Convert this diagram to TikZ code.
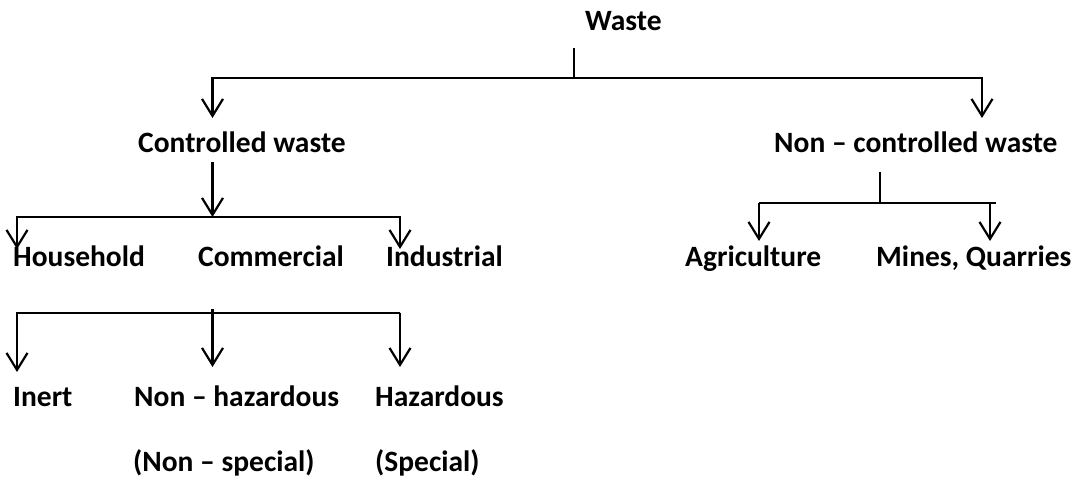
\documentclass[tikz,border=0pt]{standalone}
\usepackage{fontspec}
\setmainfont{Carlito}
\usetikzlibrary{arrows.meta}
\begin{document}
\begin{tikzpicture}[x=1pt,y=-1pt,
  lbl/.style={anchor=base west,inner sep=0pt,font=\fontsize{29.5}{32}\selectfont\bfseries},
  ln/.style={line width=2.2pt},
  arr/.style={line width=2.2pt,-{Straight Barb[length=17pt,width=21pt,line width=2.2pt]}}]
\useasboundingbox (0,0) rectangle (1073,479);
% labels
\node[lbl] (waste) at (585,30) {Waste};
\node[lbl] (cw) at (138,152.5) {Controlled waste};
\node[lbl] (ncw) at (774,152.5) {Non -- controlled waste};
\node[lbl] (hh) at (13,266) {Household};
\node[lbl] (com) at (198,266) {Commercial};
\node[lbl] (ind) at (386,266) {Industrial};
\node[lbl] (agr) at (685,266) {Agriculture};
\node[lbl] (mq) at (876,266) {Mines, Quarries};
\node[lbl] (inert) at (13,406) {Inert};
\node[lbl] (nh) at (134,406) {Non -- hazardous};
\node[lbl] (haz) at (375,406) {Hazardous};
\node[lbl] (ns) at (133,471) {(Non -- special)};
\node[lbl] (sp) at (375,471) {(Special)};
% junction coordinates
\coordinate (w0) at (574,48);
\coordinate (w1) at (574,78);
\coordinate (tL) at (212.5,78);
\coordinate (tR) at (982,78);
\coordinate (aCW) at (212.5,118);
\coordinate (aNCW) at (982,118);
\coordinate (c0) at (212.5,162);
\coordinate (c1) at (212.5,217);
\coordinate (hL) at (17,217);
\coordinate (hR) at (400,217);
\coordinate (aHH) at (17,249);
\coordinate (aIND) at (400,249);
\coordinate (n0) at (880,171.5);
\coordinate (n1) at (880,203);
\coordinate (nL) at (759,203);
\coordinate (nR) at (990,203);
\coordinate (nLe) at (996,203);
\coordinate (aAGR) at (759,241);
\coordinate (aMQ) at (990,241);
\coordinate (bL) at (17,312.7);
\coordinate (bR) at (400,312.7);
\coordinate (bM) at (212.5,309);
\coordinate (aIN) at (17,372);
\coordinate (aNH) at (212.5,367);
\coordinate (aHZ) at (400,367);
% connectors
\draw[ln] (w0) -- (w1);
\draw[arr] (w1) -- (tL) -- (aCW);
\draw[arr] (w1) -- (tR) -- (aNCW);
\draw[arr] (c0) -- (c1);
\draw[arr] (c1) -- (hL) -- (aHH);
\draw[arr] (c1) -- (hR) -- (aIND);
\draw[ln] (n0) -- (n1);
\draw[ln] (nL) -- (nLe);
\draw[arr] (nL) -- (aAGR);
\draw[arr] (nR) -- (aMQ);
\draw[arr] (bR) -- (bL) -- (aIN);
\draw[arr] (bM) -- (aNH);
\draw[arr] (bR) -- (aHZ);
\end{tikzpicture}
\end{document}
